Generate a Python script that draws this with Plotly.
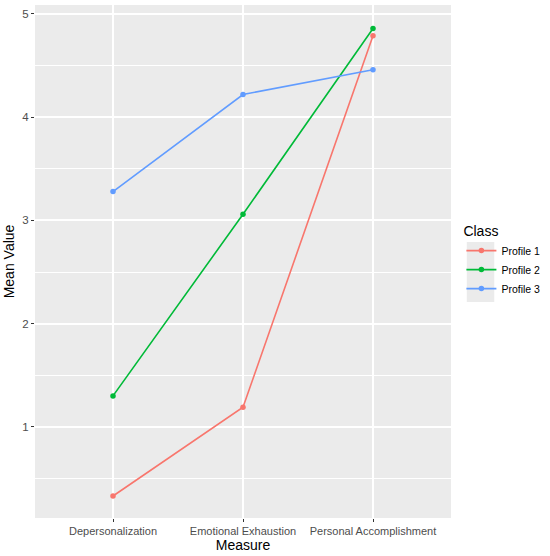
import plotly.graph_objects as go

# Данные
measures = ['Depersonalization', 'Emotional Exhaustion', 'Personal Accomplishment']
profiles = ['Profile 1', 'Profile 2', 'Profile 3']
profile1 = [0.33, 1.19, 4.79]
profile2 = [1.30, 3.06, 4.86]
profile3 = [3.28, 4.22, 4.46]
colors = ['#F8766D', '#00BA38', '#619CFF']

fig = go.Figure()
for name, vals, col in zip(profiles, [profile1, profile2, profile3], colors):
    fig.add_trace(go.Scatter(x=measures, y=vals, mode='lines+markers', name=name,
                             line=dict(color=col, width=1.6), marker=dict(color=col, size=5.5)))

# серый фон под ключами легенды (как в ggplot)
fig.add_shape(type='rect', xref='paper', yref='paper', x0=1.038, x1=1.104, y0=0.421, y1=0.538,
              fillcolor='#EBEBEB', line=dict(width=0), layer='below')

fig.update_layout(
    width=550, height=556,
    margin=dict(l=35, r=94, t=5, b=38),
    plot_bgcolor='#EBEBEB', paper_bgcolor='white',
    font=dict(family='Liberation Sans, Arial, sans-serif', color='#000000'),
    legend=dict(title=dict(text='Class', font=dict(size=14)), font=dict(size=10.5),
                x=1.025, xanchor='left', y=0.585, yanchor='top', tracegroupgap=0,
                itemwidth=30, bgcolor='rgba(0,0,0,0)'),
)
fig.update_xaxes(title=dict(text='Measure', font=dict(size=14), standoff=2),
                 automargin=False,
                 range=[-0.6, 2.6], showgrid=True, gridcolor='white', gridwidth=1.5,
                 ticks='outside', ticklen=3, tickcolor='#333333',
                 tickfont=dict(size=11, color='#4D4D4D'), zeroline=False)
fig.update_yaxes(title=dict(text='Mean Value', font=dict(size=14), standoff=4),
                 automargin=False,
                 range=[0.117, 5.087], dtick=1, tick0=0, showgrid=True, gridcolor='white', gridwidth=1.5,
                 minor=dict(dtick=0.5, tick0=0.5, showgrid=True, gridcolor='white', gridwidth=0.6),
                 ticks='outside', ticklen=3, tickcolor='#333333',
                 tickfont=dict(size=11.5, color='#4D4D4D'), zeroline=False)

fig.write_html('out.html', config={'displayModeBar': False, 'responsive': False},
               post_script="document.body.style.margin='0px';document.body.style.overflow='hidden';")
